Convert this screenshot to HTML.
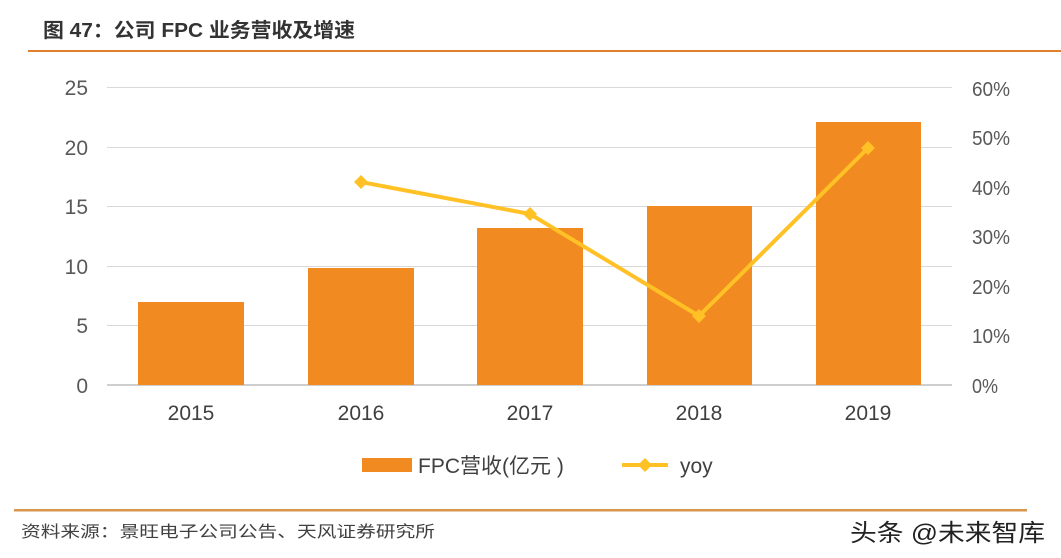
<!DOCTYPE html>
<html><head><meta charset="utf-8"><style>
html,body{margin:0;padding:0;background:#fff;width:1061px;height:558px;overflow:hidden}
svg text{font-family:"Liberation Sans","Noto Sans CJK SC",sans-serif}
</style></head><body>
<svg width="1061" height="558" viewBox="0 0 1061 558" xmlns="http://www.w3.org/2000/svg">
<text x="43" y="37" font-size="20" font-weight="bold" fill="#333" textLength="312" lengthAdjust="spacingAndGlyphs">图 47：公司 FPC 业务营收及增速</text>
<rect x="28" y="50" width="1033" height="2" fill="#E07F2C"/>
<g stroke="#d9d9d9" stroke-width="1">
<line x1="107" y1="87.5" x2="952" y2="87.5"/>
<line x1="107" y1="147.5" x2="952" y2="147.5"/>
<line x1="107" y1="206.5" x2="952" y2="206.5"/>
<line x1="107" y1="266.5" x2="952" y2="266.5"/>
<line x1="107" y1="325.5" x2="952" y2="325.5"/>
</g>
<line x1="107" y1="385" x2="952" y2="385" stroke="#bfbfbf" stroke-width="1.5"/>
<g font-size="21" fill="#595959" text-anchor="end">
<text x="88" y="95">25</text><text x="88" y="155">20</text><text x="88" y="214">15</text>
<text x="88" y="274">10</text><text x="88" y="333">5</text><text x="88" y="393">0</text>
</g>
<g font-size="20" fill="#595959" text-anchor="start">
<text x="972" y="96" textLength="38" lengthAdjust="spacingAndGlyphs">60%</text><text x="972" y="145" textLength="38" lengthAdjust="spacingAndGlyphs">50%</text><text x="972" y="195" textLength="38" lengthAdjust="spacingAndGlyphs">40%</text>
<text x="972" y="244" textLength="38" lengthAdjust="spacingAndGlyphs">30%</text><text x="972" y="294" textLength="38" lengthAdjust="spacingAndGlyphs">20%</text><text x="972" y="343" textLength="38" lengthAdjust="spacingAndGlyphs">10%</text><text x="972" y="393" textLength="26" lengthAdjust="spacingAndGlyphs">0%</text>
</g>
<g fill="#F28A22">
<rect x="138" y="302" width="106" height="83"/>
<rect x="308" y="268" width="106" height="117"/>
<rect x="477" y="228" width="106" height="157"/>
<rect x="647" y="206" width="105" height="179"/>
<rect x="816" y="122" width="105" height="263"/>
</g>
<polyline points="361,182 530,214 699,316 868,148" fill="none" stroke="#FFC125" stroke-width="4"/>
<g fill="#FFC125">
<path d="M361,175 l7,7 l-7,7 l-7,-7z"/><path d="M530,207 l7,7 l-7,7 l-7,-7z"/>
<path d="M699,309 l7,7 l-7,7 l-7,-7z"/><path d="M868,141 l7,7 l-7,7 l-7,-7z"/>
</g>
<g font-size="21" fill="#404040" text-anchor="middle">
<text x="191" y="420">2015</text><text x="361" y="420">2016</text><text x="530" y="420">2017</text>
<text x="699" y="420">2018</text><text x="868" y="420">2019</text>
</g>
<rect x="362" y="458" width="50" height="14" fill="#F28A22"/>
<text x="418" y="473" font-size="21" fill="#404040">FPC营收(亿元 )</text>
<line x1="622" y1="465" x2="668" y2="465" stroke="#FFC125" stroke-width="4"/>
<path d="M645,458 l7,7 l-7,7 l-7,-7z" fill="#FFC125"/>
<text x="680" y="473" font-size="21" fill="#404040">yoy</text>
<rect x="14" y="509" width="1013" height="2.5" fill="#D9964F"/>
<text x="21" y="537" font-size="16" fill="#404040" textLength="414" lengthAdjust="spacingAndGlyphs">资料来源：景旺电子公司公告、天风证券研究所</text>
<text x="850" y="541" font-size="24" fill="#222" textLength="195" lengthAdjust="spacingAndGlyphs">头条 @未来智库</text>
</svg>
</body></html>
